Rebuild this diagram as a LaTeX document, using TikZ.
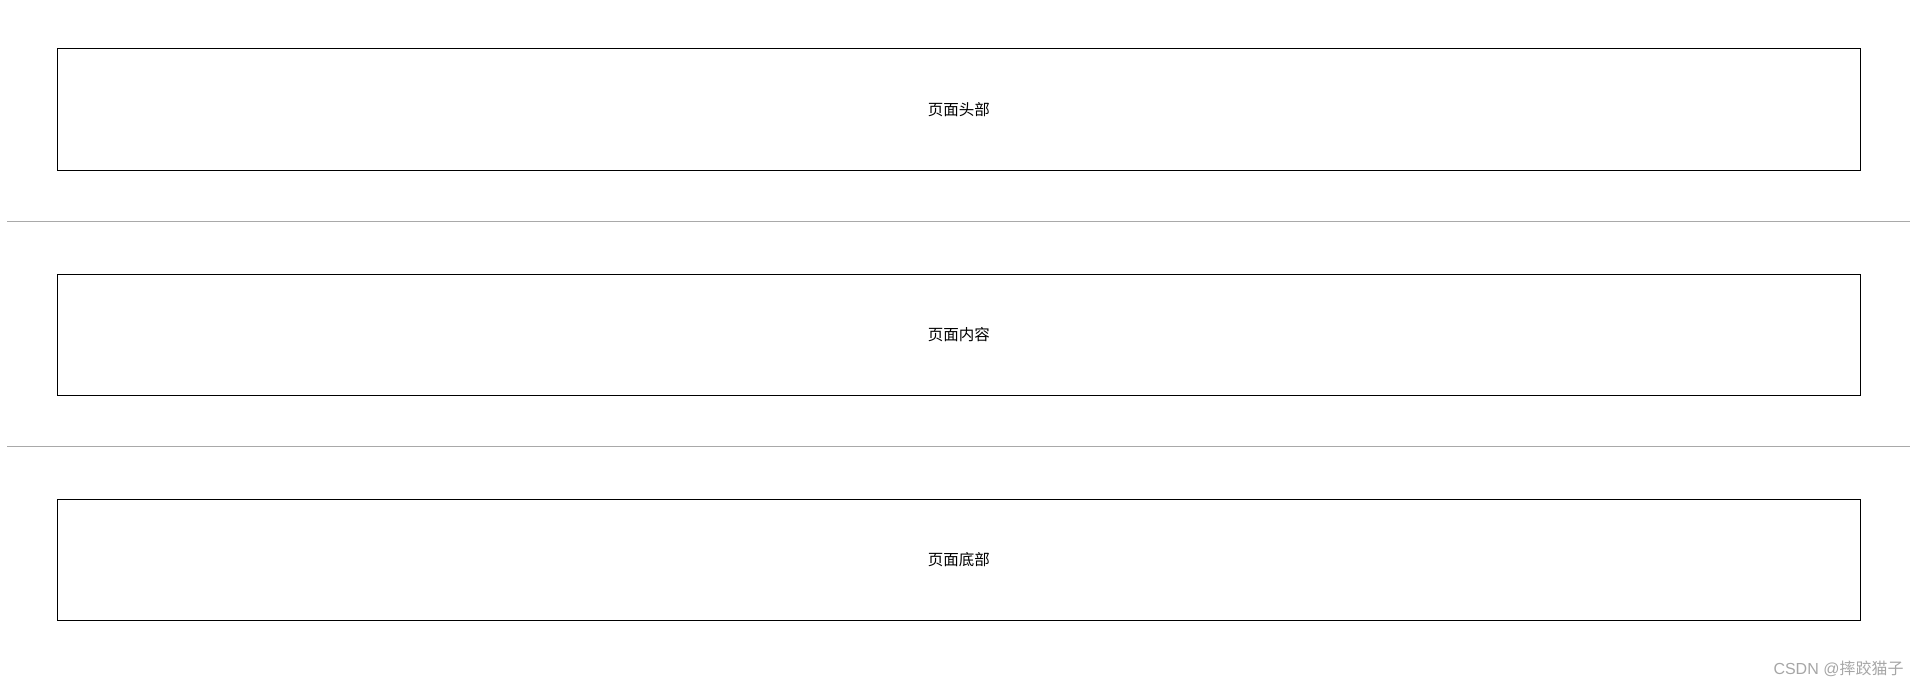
\documentclass[tikz,border=0pt]{standalone}
\usepackage{fontspec}
\setmainfont{Liberation Sans}
\newfontfamily\cjk{Noto Sans CJK SC}
\usetikzlibrary{positioning}
\definecolor{rulegray}{HTML}{A9A9A9}
\definecolor{markgray}{HTML}{A6A6A6}

\begin{document}
\begin{tikzpicture}[x=1pt,y=-1pt,
    every node/.style={draw=black,line width=1pt,rectangle,inner sep=0pt,minimum width=1802.5pt,minimum height=121.5pt,font=\cjk\fontsize{15.5}{18}\selectfont}]
            \useasboundingbox (0,0) rectangle (1919,687);
            \node (head) at (958.75,109.75) {页面头部};
            \node (body) at (958.75,334.75) {页面内容};
            \node (foot) at (958.75,559.75) {页面底部};

            \coordinate (l1) at (7,221.5);
            \coordinate (r1) at (1910,221.5);
            \coordinate (l2) at (7,446.5);
            \coordinate (r2) at (1910,446.5);

            \path [-,draw=rulegray,line width=1.5pt] (l1) edge (r1);
            \path [-,draw=rulegray,line width=1.5pt] (l2) edge (r2);

            \node [draw=none,minimum width=0pt,minimum height=0pt,anchor=east,text=markgray,font=\fontsize{16}{18}\selectfont] (mark) at (1904,668.5) {CSDN @{\cjk 摔跤猫子}};
        \end{tikzpicture}
\end{document}
